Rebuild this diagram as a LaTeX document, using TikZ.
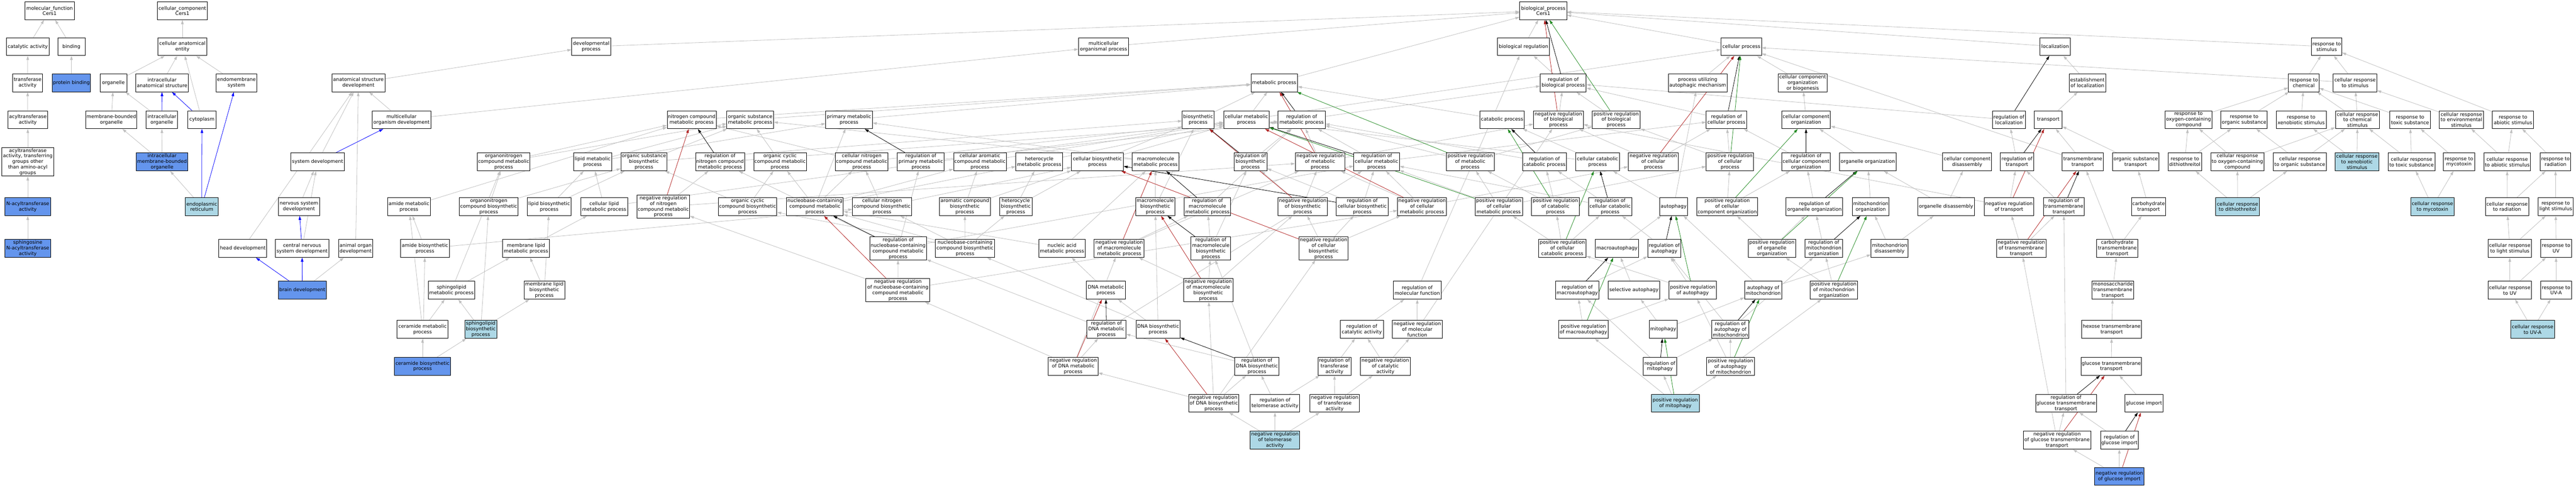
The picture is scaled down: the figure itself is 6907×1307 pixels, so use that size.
\documentclass[tikz,border=0pt]{standalone}
\usepackage{fontspec}
\setmainfont{DejaVu Sans}
\usetikzlibrary{arrows.meta,backgrounds}
\definecolor{isagray}{HTML}{C0C0C0}
\definecolor{cfblue}{HTML}{6495ED}
\definecolor{lblue}{HTML}{ADD8E6}
\definecolor{fbred}{HTML}{B22222}
\definecolor{fgreen}{HTML}{228B22}
\tikzset{
  gobox/.style={draw=black, line width=1.3pt, fill=white, rectangle, align=center,
    inner sep=2pt, minimum height=48pt, font=\fontsize{13}{15}\selectfont},
  bluebox/.style={fill=cfblue},
  lbbox/.style={fill=lblue},
  edgebase/.style={line width=1.1pt, -{Triangle[length=11pt,width=7pt]}},
  isa/.style={edgebase, color=isagray},
  partof/.style={edgebase, color=blue},
  regl/.style={edgebase, color=black},
  negr/.style={edgebase, color=fbred},
  posr/.style={edgebase, color=fgreen}
}
\newcommand{\gonode}[6][]{\node[gobox,#1,minimum width=#5pt] (#2) at (#3,#4) {#6};}
\begin{document}
\begin{tikzpicture}[x=1pt,y=-1pt]
\useasboundingbox (0,0) rectangle (6907,1307);
% R0
\gonode{mf}{133}{29}{132}{molecular\_function\\Cers1}
\gonode{cc}{489}{29}{134}{cellular\_component\\Cers1}
\gonode{bp}{4138}{29}{126}{biological\_process\\Cers1}
% R1
\gonode{catal}{74.5}{125}{115}{catalytic activity}
\gonode{binding}{191.5}{125}{73}{binding}
\gonode{cae}{489}{125}{130}{cellular anatomical\\entity}
\gonode{devproc}{1585}{125}{104}{developmental\\process}
\gonode{mop}{2959}{125}{134}{multicellular\\organismal process}
\gonode{bioreg}{4085}{125}{140}{biological regulation}
\gonode{cellproc}{4669}{125}{108}{cellular process}
\gonode{loc}{5510.5}{125}{81}{localization}
\gonode{rstim}{6238.5}{125}{81}{response to\\stimulus}
% R2
\gonode{transf}{74}{222}{80}{transferase\\activity}
\gonode[bluebox]{protbind}{191.5}{222}{103}{protein binding}
\gonode{organelle}{304}{222}{72}{organelle}
\gonode{ias}{434.5}{222}{141}{intracellular\\anatomical structure}
\gonode{endomem}{634}{222}{110}{endomembrane\\system}
\gonode{asd}{961}{222}{142}{anatomical structure\\development}
\gonode{metab}{3416.5}{222}{125}{metabolic process}
\gonode{rbiop}{4191.5}{222}{123}{regulation of\\biological process}
\gonode{puam}{4552}{222}{158}{process utilizing\\autophagic mechanism}
\gonode{ccob}{4833.5}{222}{131}{cellular component\\organization\\or biogenesis}
\gonode{estloc}{5597}{222}{98}{establishment\\of localization}
\gonode{rchem}{6177}{222}{82}{response to\\chemical}
\gonode{crstim}{6314.5}{222}{117}{cellular response\\to stimulus}
% R3
\gonode{acyl}{74.5}{321}{107}{acyltransferase\\activity}
\gonode{mbo}{298.5}{321}{137}{membrane-bounded\\organelle}
\gonode{io}{434}{321}{84}{intracellular\\organelle}
\gonode{cyto}{541.5}{321}{75}{cytoplasm}
\gonode{mod}{1076.5}{321}{157}{multicellular\\organism development}
\gonode{ncmp}{1854.5}{321}{131}{nitrogen compound\\metabolic process}
\gonode{osmp}{2011.5}{321}{125}{organic substance\\metabolic process}
\gonode{pmp}{2276.5}{321}{125}{primary metabolic\\process}
\gonode{bsp}{3212.5}{321}{85}{biosynthetic\\process}
\gonode{cmp}{3342}{321}{122}{cellular metabolic\\process}
\gonode{rmp}{3490}{321}{126}{regulation of\\metabolic process}
\gonode{catp}{4027.5}{321}{119}{catabolic process}
\gonode{nrbp}{4178.5}{321}{133}{negative regulation\\of biological\\process}
\gonode{prbp}{4333.5}{321}{129}{positive regulation\\of biological\\process}
\gonode{rcp}{4629}{321}{108}{regulation of\\cellular process}
\gonode{cco}{4842.5}{321}{131}{cellular component\\organization}
\gonode{rloc}{5386.5}{321}{89}{regulation of\\localization}
\gonode{transport}{5492}{321}{74}{transport}
\gonode{roc}{5868}{321}{126}{response to\\oxygen-containing\\compound}
\gonode{ros}{6017}{321}{124}{response to\\organic substance}
\gonode{rxs}{6170}{321}{134}{response to\\xenobiotic stimulus}
\gonode{crcs}{6321}{321}{118}{cellular response\\to chemical\\stimulus}
\gonode{rts}{6462}{321}{108}{response to\\toxic substance}
\gonode{cres}{6599.5}{321}{119}{cellular response\\to environmental\\stimulus}
\gonode{ras}{6738}{321}{110}{response to\\abiotic stimulus}
% R4
\gonode{acylother}{74.5}{434}{139}{acyltransferase\\activity, transferring\\groups other\\than amino-acyl\\groups}
\gonode[bluebox]{imbo}{434.5}{434}{139}{intracellular\\membrane-bounded\\organelle}
\gonode{sysdev}{851.5}{434}{143}{system development}
\gonode{orgnitromp}{1350.5}{434}{141}{organonitrogen\\compound metabolic\\process}
\gonode{lipidmp}{1589}{434}{102}{lipid metabolic\\process}
\gonode{osbp}{1726.5}{434}{123}{organic substance\\biosynthetic\\process}
\gonode{regncmp}{1930.5}{434}{131}{regulation of\\nitrogen compound\\metabolic process}
\gonode{occmp}{2091.5}{434}{141}{organic cyclic\\compound metabolic\\process}
\gonode{cncmp}{2310.5}{434}{141}{cellular nitrogen\\compound metabolic\\process}
\gonode{regpmp}{2469}{434}{126}{regulation of\\primary metabolic\\process}
\gonode{cacmp}{2627.5}{434}{141}{cellular aromatic\\compound metabolic\\process}
\gonode{hetmp}{2786.5}{434}{125}{heterocycle\\metabolic process}
\gonode{cbp}{2942.5}{434}{139}{cellular biosynthetic\\process}
\gonode{macromp}{3098.5}{434}{125}{macromolecule\\metabolic process}
\gonode{regbp}{3353}{434}{88}{regulation of\\biosynthetic\\process}
\gonode{nrmp}{3539.5}{434}{133}{negative regulation\\of metabolic\\process}
\gonode{rcmp}{3691}{434}{122}{regulation of\\cellular metabolic\\process}
\gonode{prmp}{3942}{434}{128}{positive regulation\\of metabolic\\process}
\gonode{rcatp}{4141}{434}{118}{regulation of\\catabolic process}
\gonode{ccatp}{4283.5}{434}{117}{cellular catabolic\\process}
\gonode{nrcp}{4433}{434}{134}{negative regulation\\of cellular\\process}
\gonode{prcp}{4638.5}{434}{127}{positive regulation\\of cellular\\process}
\gonode{rcco}{4842.5}{434}{131}{regulation of\\cellular component\\organization}
\gonode{orgorg}{5008}{434}{152}{organelle organization}
\gonode{ccdis}{5274.5}{434}{131}{cellular component\\disassembly}
\gonode{rtrans}{5408}{434}{90}{regulation of\\transport}
\gonode{tmt}{5584.5}{434}{111}{transmembrane\\transport}
\gonode{ost}{5726.5}{434}{123}{organic substance\\transport}
\gonode{rdtt}{5858}{434}{90}{response to\\dithiothreitol}
\gonode{croc}{5999}{434}{142}{cellular response\\to oxygen-containing\\compound}
\gonode{cros}{6166.5}{434}{141}{cellular response\\to organic substance}
\gonode[lbbox]{crxs}{6319.5}{434}{117}{cellular response\\to xenobiotic\\stimulus}
\gonode{crts}{6466}{434}{126}{cellular response\\to toxic substance}
\gonode{rmyco}{6593}{434}{84}{response to\\mycotoxin}
\gonode{cras}{6722.5}{434}{125}{cellular response\\to abiotic stimulus}
\gonode{rrad}{6852}{434}{82}{response to\\radiation}
% R5
\gonode[bluebox]{nacyl}{74.5}{554}{123}{N-acyltransferase\\activity}
\gonode[lbbox]{er}{541}{554}{88}{endoplasmic\\reticulum}
\gonode{nsd}{801.5}{554}{111}{nervous system\\development}
\gonode{amidemp}{1096.5}{554}{115}{amide metabolic\\process}
\gonode{onbp}{1310.5}{554}{157}{organonitrogen\\compound biosynthetic\\process}
\gonode{lipidbp}{1472.5}{554}{117}{lipid biosynthetic\\process}
\gonode{clmp}{1620}{554}{126}{cellular lipid\\metabolic process}
\gonode{nrncmp}{1778.5}{554}{141}{negative regulation\\of nitrogen\\compound metabolic\\process}
\gonode{occbp}{2004.5}{554}{157}{organic cyclic\\compound biosynthetic\\process}
\gonode{nbccmp}{2185}{554}{152}{nucleobase-containing\\compound metabolic\\process}
\gonode{cncbp}{2365}{554}{158}{cellular nitrogen\\compound biosynthetic\\process}
\gonode{acbp}{2587}{554}{136}{aromatic compound\\biosynthetic\\process}
\gonode{hetbp}{2723.5}{554}{87}{heterocycle\\biosynthetic\\process}
\gonode{macrobp}{3097.5}{554}{105}{macromolecule\\biosynthetic\\process}
\gonode{rmacromp}{3237.5}{554}{125}{regulation of\\macromolecule\\metabolic process}
\gonode{nrbsp}{3493}{554}{132}{negative regulation\\of biosynthetic\\process}
\gonode{rcbp}{3652.5}{554}{139}{regulation of\\cellular biosynthetic\\process}
\gonode{nrcmp}{3813}{554}{130}{negative regulation\\of cellular\\metabolic process}
\gonode{prcmp}{4018.5}{554}{127}{positive regulation\\of cellular\\metabolic process}
\gonode{prcatp}{4170.5}{554}{129}{positive regulation\\of catabolic\\process}
\gonode{rccatp}{4317}{554}{116}{regulation of\\cellular catabolic\\process}
\gonode{autoph}{4487.5}{554}{75}{autophagy}
\gonode{prcco}{4631}{554}{162}{positive regulation\\of cellular\\component organization}
\gonode{roo}{4865}{554}{152}{regulation of\\organelle organization}
\gonode{mitoorg}{5016}{554}{98}{mitochondrion\\organization}
\gonode{orgdis}{5218}{554}{152}{organelle disassembly}
\gonode{nrtrans}{5386.5}{554}{133}{negative regulation\\of transport}
\gonode{rtmt}{5533.5}{554}{109}{regulation of\\transmembrane\\transport}
\gonode{carbt}{5761}{554}{90}{carbohydrate\\transport}
\gonode[lbbox]{crdtt}{5999.5}{554}{117}{cellular response\\to dithiothreitol}
\gonode[lbbox]{crmyco}{6522}{554}{116}{cellular response\\to mycotoxin}
\gonode{crrad}{6722}{554}{116}{cellular response\\to radiation}
\gonode{rlight}{6852.5}{554}{93}{response to\\light stimulus}
% R6
\gonode[bluebox]{sphnacyl}{74.5}{666}{123}{sphingosine\\N-acyltransferase\\activity}
\gonode{headdev}{651}{666}{128}{head development}
\gonode{cnsdev}{810}{666}{144}{central nervous\\system development}
\gonode{aod}{953.5}{666}{91}{animal organ\\development}
\gonode{amidebp}{1139.5}{666}{131}{amide biosynthetic\\process}
\gonode{memlipmp}{1410.5}{666}{125}{membrane lipid\\metabolic process}
\gonode{rnbccmp}{2408}{666}{152}{regulation of\\nucleobase-containing\\compound metabolic\\process}
\gonode{nbccbp}{2587.5}{666}{159}{nucleobase-containing\\compound biosynthetic\\process}
\gonode{namp}{2847.5}{666}{125}{nucleic acid\\metabolic process}
\gonode{nrmacromp}{3001}{666}{134}{negative regulation\\of macromolecule\\metabolic process}
\gonode{rmacrobp}{3246.5}{666}{107}{regulation of\\macromolecule\\biosynthetic\\process}
\gonode{nrcbp}{3549}{666}{132}{negative regulation\\of cellular\\biosynthetic\\process}
\gonode{prccatp}{4189}{666}{128}{positive regulation\\of cellular\\catabolic process}
\gonode{macroaut}{4335.5}{666}{115}{macroautophagy}
\gonode{raut}{4462.5}{666}{89}{regulation of\\autophagy}
\gonode{proo}{4751}{666}{128}{positive regulation\\of organelle\\organization}
\gonode{rmitoorg}{4890}{666}{100}{regulation of\\mitochondrion\\organization}
\gonode{mitodis}{5066.5}{666}{99}{mitochondrion\\disassembly}
\gonode{nrtmt}{5419.5}{666}{133}{negative regulation\\of transmembrane\\transport}
\gonode{carbtmt}{5677}{666}{110}{carbohydrate\\transmembrane\\transport}
\gonode{crlight}{6729.5}{666}{117}{cellular response\\to light stimulus}
\gonode{ruv}{6853.5}{666}{83}{response to\\UV}
% R7
\gonode[bluebox]{braindev}{810.5}{778}{129}{brain development}
\gonode{sphmp}{1210.5}{778}{125}{sphingolipid\\metabolic process}
\gonode{memlipbp}{1459.5}{778}{109}{membrane lipid\\biosynthetic\\process}
\gonode{nrnbccmp}{2407.5}{778}{171}{negative regulation\\of nucleobase-containing\\compound metabolic\\process}
\gonode{dnamp}{2965}{778}{104}{DNA metabolic\\process}
\gonode{nrmacrobp}{3239.5}{778}{133}{negative regulation\\of macromolecule\\biosynthetic\\process}
\gonode{rmf}{3800}{778}{128}{regulation of\\molecular function}
\gonode{rmacroaut}{4229}{778}{116}{regulation of\\macroautophagy}
\gonode{selaut}{4381}{778}{138}{selective autophagy}
\gonode{praut}{4538.5}{778}{127}{positive regulation\\of autophagy}
\gonode{autmito}{4727.5}{778}{99}{autophagy of\\mitochondrion}
\gonode{prmitoorg}{4917}{778}{128}{positive regulation\\of mitochondrion\\organization}
\gonode{mstt}{5665}{778}{112}{monosaccharide\\transmembrane\\transport}
\gonode{cruv}{6729.5}{778}{117}{cellular response\\to UV}
\gonode{ruva}{6853.5}{778}{83}{response to\\UV-A}
% R8
\gonode{ceramp}{1133}{883}{136}{ceramide metabolic\\process}
\gonode[lbbox]{sphbp}{1289}{883}{86}{sphingolipid\\biosynthetic\\process}
\gonode{rdnamp}{2966.5}{883}{105}{regulation of\\DNA metabolic\\process}
\gonode{dnabp}{3105}{883}{118}{DNA biosynthetic\\process}
\gonode{rcatact}{3651.5}{883}{115}{regulation of\\catalytic activity}
\gonode{nrmf}{3800}{883}{134}{negative regulation\\of molecular\\function}
\gonode{prmacroaut}{4245.5}{883}{133}{positive regulation\\of macroautophagy}
\gonode{mitophagy}{4459.5}{883}{75}{mitophagy}
\gonode{rautmito}{4639.5}{883}{99}{regulation of\\autophagy of\\mitochondrion}
\gonode{hextt}{5662}{883}{160}{hexose transmembrane\\transport}
\gonode[lbbox]{cruva}{6790.5}{883}{117}{cellular response\\to UV-A}
% R9
\gonode[bluebox]{cerabp}{1133}{982}{150}{ceramide biosynthetic\\process}
\gonode{nrdnamp}{2877.5}{982}{133}{negative regulation\\of DNA metabolic\\process}
\gonode{rdnabp}{3370}{982}{118}{regulation of\\DNA biosynthetic\\process}
\gonode{rtransf}{3578}{982}{88}{regulation of\\transferase\\activity}
\gonode{nrcatact}{3714.5}{982}{133}{negative regulation\\of catalytic\\activity}
\gonode{rmitoph}{4450.5}{982}{89}{regulation of\\mitophagy}
\gonode{prautmito}{4640}{982}{128}{positive regulation\\of autophagy\\of mitochondrion}
\gonode{gtt}{5661}{982}{162}{glucose transmembrane\\transport}
% R10
\gonode{nrdnabp}{3254.5}{1081}{135}{negative regulation\\of DNA biosynthetic\\process}
\gonode{rtelo}{3418.5}{1081}{133}{regulation of\\telomerase activity}
\gonode{nrtransf}{3578.5}{1081}{133}{negative regulation\\of transferase\\activity}
\gonode[lbbox]{prmitoph}{4492}{1081}{128}{positive regulation\\of mitophagy}
\gonode{rgtt}{5539.5}{1081}{163}{regulation of\\glucose transmembrane\\transport}
\gonode{gimp}{5748.5}{1081}{103}{glucose import}
% R11
\gonode[lbbox]{nrtelo}{3418.5}{1180}{133}{negative regulation\\of telomerase\\activity}
\gonode{nrgtt}{5515.5}{1180}{181}{negative regulation\\of glucose transmembrane\\transport}
\gonode{rgimp}{5682.5}{1180}{101}{regulation of\\glucose import}
% R12
\gonode[bluebox]{nrgimp}{5682.5}{1277}{133}{negative regulation\\of glucose import}

\begin{pgfonlayer}{background}
\fill[white] (0,0) rectangle (6907,1307);
% is_a edges
\foreach \c/\p in {catal/mf, binding/mf, transf/catal, protbind/binding, acyl/transf, acylother/acyl, nacyl/acylother, sphnacyl/nacyl,
  cae/cc, organelle/cae, ias/cae, cyto/cae, endomem/cae, mbo/organelle, io/organelle, imbo/mbo, imbo/io, er/imbo,
  devproc/bp, mop/bp, asd/devproc, mod/asd, mod/mop, sysdev/asd, nsd/sysdev, headdev/asd, cnsdev/sysdev, aod/asd, braindev/aod,
  bioreg/bp, cellproc/bp, metab/bp, loc/bp, rstim/bp, rbiop/bioreg, nrbp/rbiop, prbp/rbiop,
  cmp/metab, cmp/cellproc, bsp/metab, rmp/rbiop, ncmp/metab, osmp/metab, pmp/metab, catp/metab, rcp/rbiop, puam/cellproc, ccob/cellproc, cco/ccob, crstim/rstim, crstim/cellproc,
  rchem/rstim, ras/rstim, roc/rchem, ros/rchem, rxs/rchem, crcs/rchem, crcs/crstim, rts/rchem, cres/crstim, estloc/loc, transport/estloc, rloc/rbiop, tmt/cellproc,
  rdtt/roc, rdtt/ros, croc/roc, croc/crcs, cros/ros, cros/crcs, crxs/rxs, crxs/crcs, crts/rts, crts/crcs, rmyco/rts, cras/ras, cras/cres, rrad/ras,
  crdtt/rdtt, crdtt/croc, crdtt/cros, crmyco/crts, crmyco/rmyco, crrad/cras, crrad/rrad, rlight/rrad,
  crlight/crrad, crlight/rlight, ruv/rlight, cruv/crlight, cruv/ruv, ruva/ruv, cruva/cruv, cruva/ruva,
  rtrans/rloc, tmt/transport, ost/transport, nrtrans/rtrans, nrtrans/nrbp, rtmt/rtrans, carbt/ost, nrtmt/rtmt, nrtmt/nrtrans, carbtmt/carbt, carbtmt/tmt, rgtt/rtmt, nrgtt/nrtmt,
  mstt/carbtmt, hextt/mstt, gtt/hextt, gimp/gtt, nrgtt/rgtt, rgimp/rgtt, nrgimp/rgimp, nrgimp/nrgtt,
  rcatp/rmp, ccatp/catp, ccatp/cmp, nrcp/nrbp, nrcp/rcp, prcp/prbp, prcp/rcp, rcco/rcp, orgorg/cco, ccdis/cco,
  prmp/rmp, prmp/prbp, prcmp/prmp, prcmp/rcmp, prcmp/prcp, prcatp/rcatp, prcatp/prmp, rccatp/rcatp, rccatp/rcmp, autoph/puam, autoph/ccatp, prcco/rcco, prcco/prcp, roo/rcco, mitoorg/orgorg, orgdis/orgorg, orgdis/ccdis,
  prccatp/prcatp, prccatp/rccatp, prccatp/prcmp, macroaut/autoph, raut/rccatp, praut/raut, praut/prccatp, proo/roo, proo/prcco, rmitoorg/roo, mitodis/mitoorg, mitodis/orgdis,
  rmacroaut/raut, selaut/macroaut, autmito/mitodis, autmito/autoph, prmitoorg/rmitoorg, prmitoorg/proo,
  prmacroaut/rmacroaut, prmacroaut/praut, mitophagy/autmito, mitophagy/selaut, rautmito/raut, rautmito/rmitoorg,
  rmitoph/rautmito, rmitoph/rmacroaut, prautmito/rautmito, prautmito/praut, prautmito/prmitoorg,
  prmitoph/rmitoph, prmitoph/prautmito, prmitoph/prmacroaut,
  orgnitromp/ncmp, orgnitromp/osmp, lipidmp/osmp, lipidmp/pmp, osbp/osmp, osbp/bsp, regncmp/rmp, occmp/osmp, cncmp/ncmp, cncmp/cmp, regpmp/rmp, macromp/osmp, macromp/pmp, cacmp/cmp, hetmp/cmp, cbp/bsp, cbp/cmp, regbp/rmp, nrmp/rmp, nrmp/nrbp, rcmp/rmp, rcmp/rcp,
  amidemp/ncmp, onbp/orgnitromp, onbp/osbp, lipidbp/lipidmp, lipidbp/osbp, clmp/lipidmp, clmp/cmp, nrncmp/regncmp, nrncmp/nrmp, occbp/occmp, occbp/osbp, nbccmp/occmp, nbccmp/cncmp, nbccmp/cacmp, nbccmp/hetmp, nbccmp/pmp, cncbp/cncmp, cncbp/cbp, acbp/cacmp, acbp/cbp, hetbp/hetmp, hetbp/cbp,
  macrobp/macromp, macrobp/bsp, rmacromp/rmp, nrbsp/regbp, nrbsp/nrmp, rcbp/regbp, rcbp/rcmp, nrcmp/nrmp, nrcmp/rcmp, nrcmp/nrcp,
  nbccbp/nbccmp, nbccbp/acbp, nbccbp/hetbp, nbccbp/occbp, nbccbp/cncbp, namp/nbccmp, namp/macromp, nrmacromp/rmacromp, nrmacromp/nrmp, rmacrobp/rmacromp, rmacrobp/regbp, nrcbp/nrbsp, nrcbp/rcbp, nrcbp/nrcmp, rnbccmp/regpmp, rnbccmp/rcmp, rnbccmp/regncmp,
  nrnbccmp/rnbccmp, nrnbccmp/nrcmp, nrnbccmp/nrncmp, dnamp/namp, nrmacrobp/rmacrobp, nrmacrobp/nrmacromp, nrmacrobp/nrbsp, rmf/bioreg, sphmp/memlipmp, sphmp/orgnitromp, memlipmp/clmp, memlipbp/memlipmp, memlipbp/lipidbp,
  amidebp/amidemp, amidebp/cncbp, ceramp/sphmp, ceramp/amidemp, sphbp/sphmp, sphbp/memlipbp, sphbp/onbp, cerabp/ceramp, cerabp/sphbp, cerabp/amidebp,
  rdnamp/rnbccmp, rdnamp/rcmp, dnabp/dnamp, dnabp/macrobp, dnabp/nbccbp, rcatact/rmf, nrmf/rmf, nrmf/nrbp,
  nrdnamp/rdnamp, nrdnamp/nrnbccmp, nrdnamp/nrmacromp, rdnabp/rdnamp, rdnabp/rmacrobp, rtransf/rcatact, nrcatact/rcatact, nrcatact/nrmf,
  nrdnabp/rdnabp, nrdnabp/nrdnamp, nrdnabp/nrcbp, nrdnabp/nrmacrobp, rtelo/rdnabp, rtelo/rtransf, nrtransf/rtransf, nrtransf/nrcatact, nrtelo/nrdnabp, nrtelo/rtelo, nrtelo/nrtransf}
  {\draw[isa] (\c) -- (\p);}
% part_of
\foreach \c/\p in {io/ias, cyto/ias, er/cyto, er/endomem, sysdev/mod, cnsdev/nsd, braindev/headdev, braindev/cnsdev}
  {\draw[partof] (\c) -- (\p);}
% regulates
\foreach \c/\p in {rbiop/bp, rmp/metab, rcp/cellproc, regncmp/ncmp, regpmp/pmp, regbp/bsp, rcmp/cmp, rmacromp/macromp, rcbp/cbp, rmacrobp/macrobp, rnbccmp/nbccmp, rdnamp/dnamp, rdnabp/dnabp, rcatp/catp, rccatp/ccatp, rcco/cco, roo/orgorg, rmitoorg/mitoorg, raut/autoph, rmacroaut/macroaut, rautmito/autmito, rmitoph/mitophagy, rloc/loc, rtrans/transport, rtmt/tmt, rgtt/gtt, rgimp/gimp}
  {\draw[regl] (\c) -- (\p);}
% negatively regulates
\foreach \c/\p in {nrbp/bp, nrcp/cellproc, nrmp/metab, nrbsp/bsp, nrcmp/cmp, nrmacromp/macromp, nrcbp/cbp, nrmacrobp/macrobp, nrdnamp/dnamp, nrdnabp/dnabp, nrnbccmp/nbccmp, nrncmp/ncmp, nrtrans/transport, nrtmt/tmt, nrgtt/gtt, nrgimp/gimp}
  {\draw[negr] (\c) -- (\p);}
% positively regulates
\foreach \c/\p in {prbp/bp, prcp/cellproc, prmp/metab, prcmp/cmp, prcatp/catp, prccatp/ccatp, prcco/cco, proo/orgorg, prmitoorg/mitoorg, praut/autoph, prmacroaut/macroaut, prautmito/autmito, prmitoph/mitophagy}
  {\draw[posr] (\c) -- (\p);}
\end{pgfonlayer}
\end{tikzpicture}
\end{document}
